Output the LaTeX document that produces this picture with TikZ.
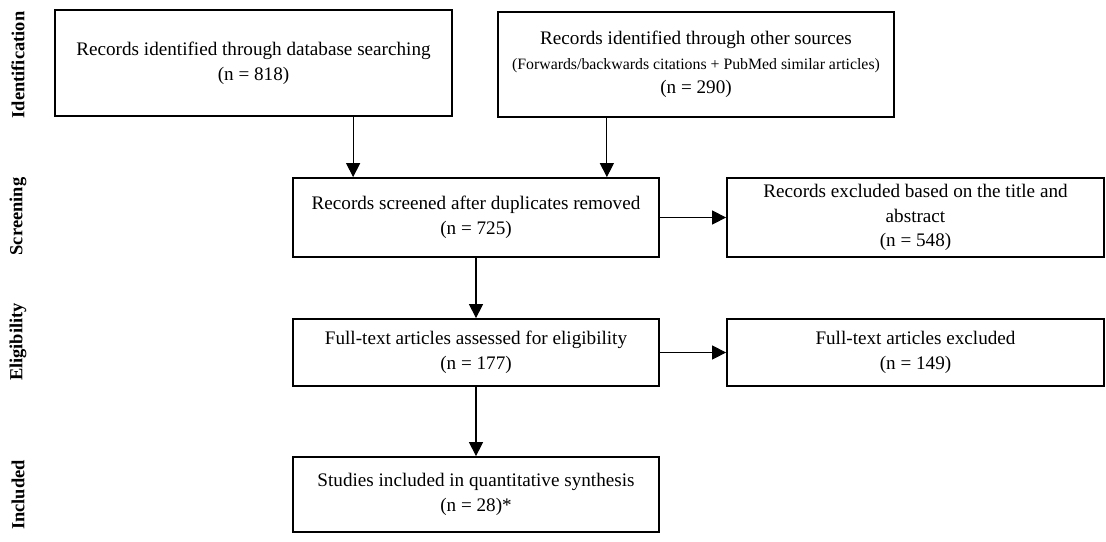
\documentclass[tikz,border=0pt]{standalone}
\usepackage{fontspec}
\setmainfont{Liberation Serif}
\usetikzlibrary{arrows.meta, calc}

\tikzset{
	box/.style={draw, line width=1pt, align=center, inner sep=2pt, font=\fontsize{10.9}{14}\selectfont},
	phase/.style={rotate=90, font=\bfseries\fontsize{10.5}{12}\selectfont},
	arrow/.style={-{Triangle[length=8pt,width=8pt]}, line width=0.6pt},
}

\begin{document}
\begin{tikzpicture}
	\useasboundingbox (0,0) rectangle (22.12,-10.82);
	% phases
	\node [phase] (identification) at (0.36,-1.3) {Identification};
	\node [phase] (screening) at (0.36,-4.33) {Screening};
	\node [phase] (eligibility) at (0.36,-6.84) {Eligibility};
	\node [phase] (included) at (0.36,-9.9) {Included};
	% boxes
	\node [box, minimum width=7.94cm, minimum height=2.12cm] (database) at (5.07,-1.26) {Records identified through database searching\\(n = 818)};
	\node [box, minimum width=7.92cm, minimum height=2.1cm] (other) at (13.92,-1.29) {Records identified through other sources\\{\fontsize{9}{11.5}\selectfont (Forwards/backwards citations + PubMed similar articles)}\\(n = 290)};
	\node [box, minimum width=7.32cm, minimum height=1.58cm] (screened) at (9.52,-4.35) {Records screened after duplicates removed\\(n = 725)};
	\node [box, minimum width=7.54cm, minimum height=1.58cm] (excluded) at (18.31,-4.35) {Records excluded based on the title and\\abstract\\(n = 548)};
	\node [box, minimum width=7.32cm, minimum height=1.34cm] (fulltext) at (9.52,-7.05) {Full-text articles assessed for eligibility\\(n = 177)};
	\node [box, minimum width=7.54cm, minimum height=1.34cm] (ftexcluded) at (18.31,-7.05) {Full-text articles excluded\\(n = 149)};
	\node [box, minimum width=7.32cm, minimum height=1.5cm] (studies) at (9.52,-9.89) {Studies included in quantitative synthesis\\(n = 28)*};
	% arrows
	\draw [arrow] ([xshift=1.22cm]screened.north west |- database.south) -- ([xshift=1.22cm]screened.north west);
	\draw [arrow] ([xshift=-1.06cm]screened.north east |- other.south) -- ([xshift=-1.06cm]screened.north east);
	\draw [arrow] (screened.east) -- (excluded.west);
	\draw [arrow] (screened.south) -- (fulltext.north);
	\draw [arrow] (fulltext.east) -- (ftexcluded.west);
	\draw [arrow] (fulltext.south) -- (studies.north);
\end{tikzpicture}
\end{document}
